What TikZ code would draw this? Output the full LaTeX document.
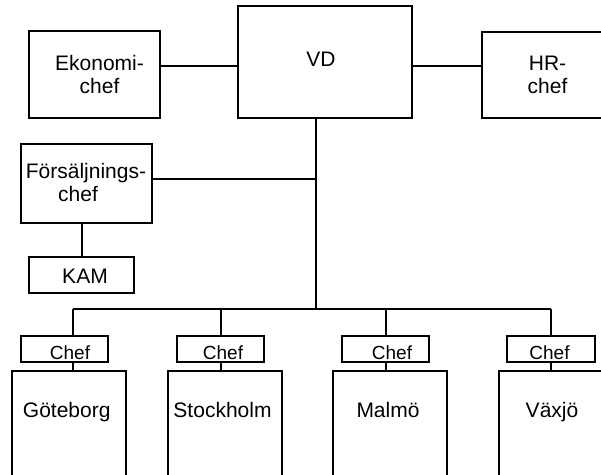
\documentclass[tikz,border=0pt]{standalone}
\usepackage{fontspec}
\setmainfont{Liberation Sans}
\begin{document}
\begin{tikzpicture}[x=1pt,y=-1pt,
  box/.style={draw=black, line width=1.6pt, inner sep=0pt, outer sep=0pt},
  txt/.style={inner sep=0pt, align=center, font=\fontsize{21}{23}\selectfont},
  small/.style={inner sep=0pt, font=\fontsize{19}{21}\selectfont},
  wire/.style={draw=black, line width=1.6pt}]
\useasboundingbox (0,0) rectangle (601,474);
\clip (0,0) rectangle (601,474);

% top row
\node[box, minimum width=131, minimum height=87]  (ek)  at (94.5,74.5) {};
\node[box, minimum width=174, minimum height=112] (vd)  at (325,62)    {};
\node[box, minimum width=131, minimum height=86]  (hr)  at (547.5,75)  {};
\node[txt] (ekt) at (99.5,74.5) {Ekonomi-\\chef};
\node[txt] (vdt) at (321,59)    {VD};
\node[txt] (hrt) at (547.5,75)  {HR-\\chef};

% sales
\node[box, minimum width=131, minimum height=79] (fs)  at (86.5,183.5) {};
\node[box, minimum width=105, minimum height=36] (kam) at (81.5,275)   {};
\node[txt] (fst)  at (86,182.5) {Försäljnings-\\\hspace*{-16pt}chef};
\node[txt] (kamt) at (85,276)   {KAM};

% branch offices
\node[box, minimum width=87, minimum height=26] (c1) at (64.5,349)  {};
\node[box, minimum width=87, minimum height=26] (c2) at (220.5,349) {};
\node[box, minimum width=87, minimum height=26] (c3) at (385.5,349) {};
\node[box, minimum width=88, minimum height=26] (c4) at (551,349)   {};
\node[small, anchor=base] (c1t) at (70,359.3)    {Chef};
\node[small, anchor=base] (c2t) at (223,359.3)   {Chef};
\node[small, anchor=base] (c3t) at (392,359.3)   {Chef};
\node[small, anchor=base] (c4t) at (549.5,359.3) {Chef};

\node[box, minimum width=114, minimum height=140] (g1) at (69,441)  {};
\node[box, minimum width=114, minimum height=140] (g2) at (225,441) {};
\node[box, minimum width=114, minimum height=140] (g3) at (390,441) {};
\node[box, minimum width=114, minimum height=140] (g4) at (556,441) {};
\node[txt, anchor=base] (g1t) at (66.7,417)  {Göteborg};
\node[txt, anchor=base] (g2t) at (222.5,417) {Stockholm};
\node[txt, anchor=base] (g3t) at (388,417)   {Malmö};
\node[txt, anchor=base] (g4t) at (552,417)   {Växjö};

% connectors
\coordinate (topy) at (0,66);
\coordinate (fsy)  at (0,179);
\coordinate (bus)  at (316,309);
\coordinate (j1) at (73,309);
\coordinate (j2) at (221,309);
\coordinate (j3) at (386,309);
\coordinate (j4) at (551,309);

\draw[wire] (ek.east |- topy) -- (vd.west |- topy);
\draw[wire] (vd.east |- topy) -- (hr.west |- topy);
\draw[wire] (vd.south -| bus) -- (bus);
\draw[line width=2.4pt] (bus |- 0,205) -- (bus |- 0,215);
\draw[wire] (fs.east |- fsy) -- (bus |- fsy);
\draw[wire] (fs.south -| 82,0) -- (kam.north -| 82,0);
\draw[wire] (j1) -- (j4);
\foreach \i in {1,2,3,4} {
  \draw[wire] (j\i) -- (j\i |- c\i.north);
  \draw[wire] (j\i |- c\i.south) -- (j\i |- g\i.north);
}
\end{tikzpicture}
\end{document}
